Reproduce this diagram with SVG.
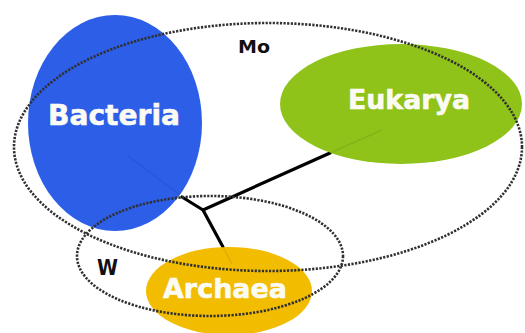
<svg xmlns="http://www.w3.org/2000/svg" width="525" height="333" viewBox="0 0 525 333">
<style>
.dot{fill:none;stroke:#303030;stroke-width:2.6;stroke-dasharray:2.2 1.4}
.br{stroke:#000;stroke-width:3.2;fill:none;stroke-linecap:round;stroke-linejoin:round}
.faint{stroke:#000;stroke-width:1.5;opacity:0.08;fill:none}
.lbl{font-family:"DejaVu Sans",Verdana,sans-serif;font-weight:bold;fill:#fbfbf4;stroke:#fbfbf4;stroke-width:0.6;text-anchor:middle}
.tag{font-family:"DejaVu Sans",Verdana,sans-serif;font-weight:bold;fill:#111;text-anchor:middle}
</style>
<rect width="525" height="333" fill="#fff"/>
<g id="connectors">
<polyline class="br" points="182,197 203,210 330,153"/>
<line class="br" x1="203" y1="210" x2="223" y2="247"/>
</g>
<g id="bacteria">
<ellipse cx="115" cy="123" rx="87" ry="108" fill="#2c5ee8"/>
<line class="faint" x1="127" y1="155" x2="180" y2="195"/>
<text class="lbl" x="114" y="125" font-size="29" textLength="132" lengthAdjust="spacingAndGlyphs">Bacteria</text>
</g>
<g id="eukarya">
<ellipse cx="401" cy="104" rx="121" ry="60" fill="#8fc31a"/>
<line class="faint" x1="330" y1="153" x2="382" y2="130"/>
<text class="lbl" x="409" y="109" font-size="27" textLength="122" lengthAdjust="spacingAndGlyphs">Eukarya</text>
</g>
<g id="archaea">
<ellipse cx="229" cy="291" rx="83" ry="44" fill="#f2bc00"/>
<line class="faint" x1="223" y1="247" x2="232" y2="264"/>
<text class="lbl" x="225" y="298" font-size="27" textLength="124" lengthAdjust="spacingAndGlyphs">Archaea</text>
</g>
<g id="mo">
<ellipse class="dot" cx="268" cy="147" rx="254" ry="124"/>
<text class="tag" x="254" y="53" font-size="17" textLength="32" lengthAdjust="spacingAndGlyphs">Mo</text>
</g>
<g id="w">
<ellipse class="dot" cx="210" cy="256" rx="133" ry="60"/>
<text class="tag" x="107.5" y="275" font-size="21" textLength="21" lengthAdjust="spacingAndGlyphs">W</text>
</g>
</svg>
